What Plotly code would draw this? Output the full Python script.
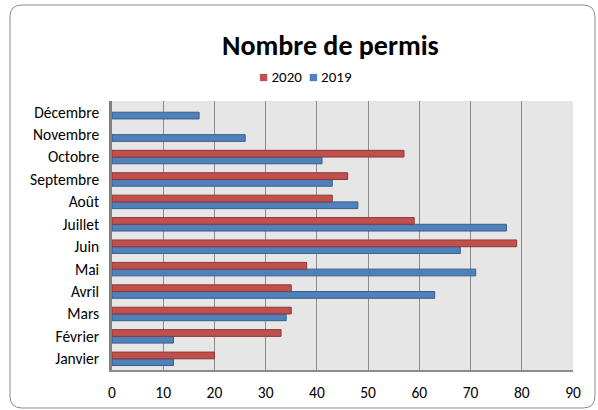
import plotly.graph_objects as go

months = ["Janvier", "Février", "Mars", "Avril", "Mai", "Juin", "Juillet",
          "Août", "Septembre", "Octobre", "Novembre", "Décembre"]
v2020 = [20, 33, 35, 35, 38, 79, 59, 43, 46, 57, None, None]
v2019 = [12, 12, 34, 63, 71, 68, 77, 48, 43, 41, 26, 17]
x_ticks = [0, 10, 20, 30, 40, 50, 60, 70, 80, 90]

FONT = "Carlito, Calibri, Lato, 'Liberation Sans', sans-serif"
RED, RED_LINE = "#c0504d", "#8c3836"
BLUE, BLUE_LINE = "#4f81bd", "#385d8a"

fig = go.Figure()
fig.add_trace(go.Bar(
    y=months, x=v2019, orientation="h", name="2019",
    marker=dict(color=BLUE, line=dict(color=BLUE_LINE, width=1)),
))
fig.add_trace(go.Bar(
    y=months, x=v2020, orientation="h", name="2020",
    marker=dict(color=RED, line=dict(color=RED_LINE, width=1)),
))

W, H = 598, 410
L, T = 112, 101
R = W - 573
B = H - 370
pw, ph = W - L - R, H - T - B

def px2paper_x(px):
    return (px - L) / pw

def px2paper_y(py):
    return (H - B - py) / ph

# rounded border
x0, x1, y0, y1 = 10, 595, 5, 408
r = 12
def P(x, y):
    return f"{px2paper_x(x):.4f},{px2paper_y(y):.4f}"
path = (f"M {P(x0 + r, y0)} L {P(x1 - r, y0)} Q {P(x1, y0)} {P(x1, y0 + r)} "
        f"L {P(x1, y1 - r)} Q {P(x1, y1)} {P(x1 - r, y1)} "
        f"L {P(x0 + r, y1)} Q {P(x0, y1)} {P(x0, y1 - r)} "
        f"L {P(x0, y0 + r)} Q {P(x0, y0)} {P(x0 + r, y0)} Z")

legend_text = (f"<span style='color:{RED}'>■</span> 2020  "
               f"<span style='color:{BLUE}'>■</span> 2019")

fig.update_layout(
    width=W, height=H,
    margin=dict(l=L, r=R, t=T, b=B, autoexpand=False),
    paper_bgcolor="white",
    plot_bgcolor="#e6e6e6",
    barmode="group",
    bargap=0.4,
    bargroupgap=0.0,
    font=dict(family=FONT, size=15.5, color="black"),
    showlegend=False,
    shapes=[dict(type="path", path=path, xref="paper", yref="paper",
                 line=dict(color="#8c8c8c", width=1), layer="below")],
    annotations=[
        dict(text="<b>Nombre de permis</b>", xref="paper", yref="paper",
             x=px2paper_x(330), y=px2paper_y(46), xanchor="center",
             yanchor="middle", showarrow=False,
             font=dict(size=28, family=FONT, color="black")),
        dict(text=legend_text, xref="paper", yref="paper",
             x=px2paper_x(305), y=px2paper_y(77), xanchor="center",
             yanchor="middle", showarrow=False,
             font=dict(size=15, family=FONT, color="black")),
    ],
    xaxis=dict(range=[0, 90], tickvals=x_ticks, showgrid=True,
               gridcolor="#8c8c8c", gridwidth=1.2, zeroline=False,
               showline=True, linecolor="#8c8c8c", linewidth=2,
               ticks="", ticklen=0, ticklabelstandoff=7, automargin=False,
               tickfont=dict(size=15.5)),
    yaxis=dict(categoryorder="array", categoryarray=months,
               showline=True, linecolor="#808080", linewidth=2.5,
               ticks="", ticksuffix="  ", tickfont=dict(size=15.5),
               automargin=False, showgrid=False),
)

fig.write_html(
    "out.html",
    config={"displayModeBar": False},
    post_script="document.body.style.margin='0';document.body.style.overflow='hidden';",
)
